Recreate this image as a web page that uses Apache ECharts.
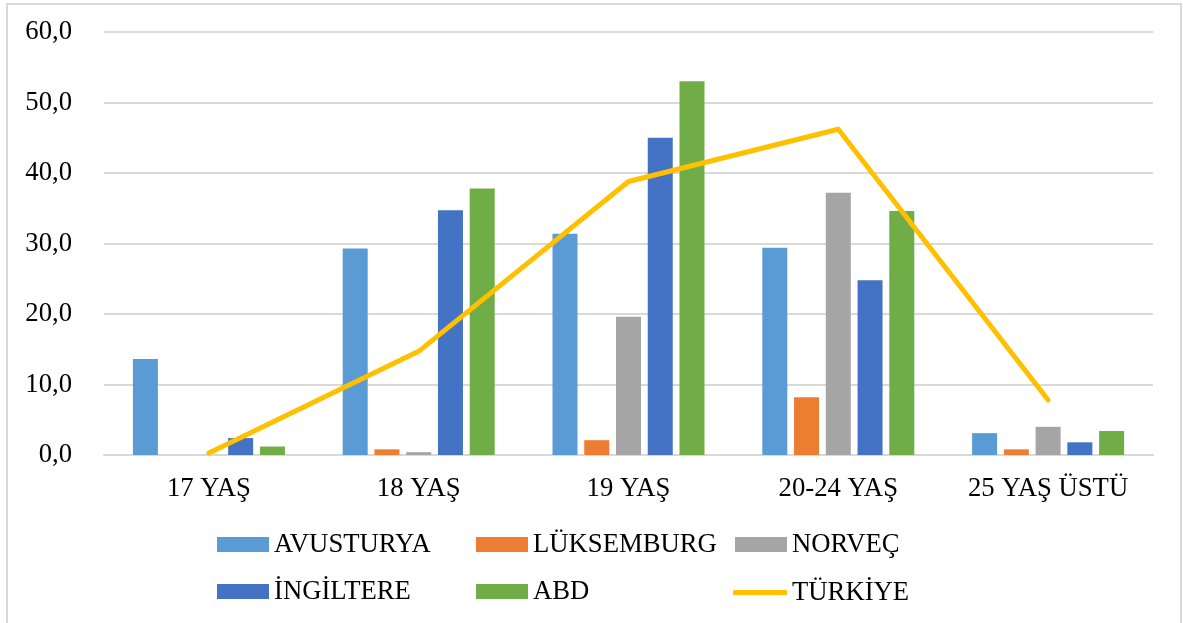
<!DOCTYPE html>
<html>
<head>
<meta charset="utf-8">
<script src="https://cdn.jsdelivr.net/npm/echarts@6/dist/echarts.min.js"></script>
<style>
  html, body { margin: 0; padding: 0; background: #fff; }
  #chart { width: 1183px; height: 623px; }
</style>
</head>
<body>
<div id="chart"></div>
<script>
// yaş grupları
var categories = ["17 YAŞ", "18 YAŞ", "19 YAŞ", "20-24 YAŞ", "25 YAŞ ÜSTÜ"];

var avusturya = [13.6, 29.3, 31.4, 29.4, 3.1];
var luksemburg = [0, 0.8, 2.1, 8.2, 0.8];
var norvec = [0, 0.4, 19.6, 37.2, 4.0];
var ingiltere = [2.4, 34.7, 45.0, 24.8, 1.8];
var abd = [1.2, 37.8, 53.0, 34.6, 3.4];
var turkiye = [0.3, 14.7, 38.8, 46.2, 7.8];

var yTicks = [0, 10, 20, 30, 40, 50, 60];

var FONT = "Liberation Serif";
var FS = 26.7;

var chart = echarts.init(document.getElementById("chart"));

function bar(name, data, color) {
  return {
    name: name,
    type: "bar",
    data: data,
    barWidth: 25,
    barGap: "27%",
    itemStyle: { color: color },
    emphasis: { disabled: true }
  };
}

// legend sütunları, referanstaki gibi sabit aralıklı
function legendCol(left, top, names, opts) {
  return Object.assign({
    orient: "vertical",
    left: left,
    top: top,
    padding: 0,
    itemWidth: 52,
    itemHeight: 15,
    itemGap: 20,
    icon: "rect",
    data: names,
    selectedMode: false,
    textStyle: { fontFamily: FONT, fontSize: FS, color: "#000" }
  }, opts || {});
}

chart.setOption({
  backgroundColor: "#fff",
  animation: false,
  textStyle: { fontFamily: FONT },
  graphic: [
    {
      type: "rect",
      shape: { x: 7, y: 4, width: 1174, height: 650 },
      style: { fill: "none", stroke: "#d9d9d9", lineWidth: 2 },
      silent: true
    }
  ],
  grid: {
    left: 104,
    right: 30,
    top: 32,
    bottom: 168,
    containLabel: false
  },
  legend: [
    legendCol(217, 531, ["AVUSTURYA", "İNGİLTERE"]),
    legendCol(476, 531, ["LÜKSEMBURG", "ABD"]),
    legendCol(735, 531, ["NORVEÇ"]),
    legendCol(733, 579, ["TÜRKİYE"], {
      icon: "roundRect",
      itemWidth: 54,
      itemHeight: 5
    })
  ],
  xAxis: {
    type: "category",
    data: categories,
    axisTick: { show: false },
    axisLine: { lineStyle: { color: "#d9d9d9", width: 2 } },
    axisLabel: {
      margin: 20,
      fontFamily: FONT,
      fontSize: FS,
      color: "#000"
    }
  },
  yAxis: {
    type: "value",
    min: yTicks[0],
    max: yTicks[yTicks.length - 1],
    interval: 10,
    axisLine: { show: false },
    axisTick: { show: false },
    splitLine: { lineStyle: { color: "#d9d9d9", width: 2 } },
    axisLabel: {
      margin: 32,
      fontFamily: FONT,
      fontSize: FS,
      color: "#000",
      formatter: function (v) {
        return v.toFixed(1).replace(".", ",");
      }
    }
  },
  series: [
    bar("AVUSTURYA", avusturya, "#5b9bd5"),
    bar("LÜKSEMBURG", luksemburg, "#ed7d31"),
    bar("NORVEÇ", norvec, "#a5a5a5"),
    bar("İNGİLTERE", ingiltere, "#4472c4"),
    bar("ABD", abd, "#70ad47"),
    {
      name: "TÜRKİYE",
      type: "line",
      data: turkiye,
      symbol: "none",
      z: 10,
      lineStyle: { color: "#ffc000", width: 5, cap: "round", join: "round" },
      itemStyle: { color: "#ffc000" },
      emphasis: { disabled: true }
    }
  ]
});
</script>
</body>
</html>
